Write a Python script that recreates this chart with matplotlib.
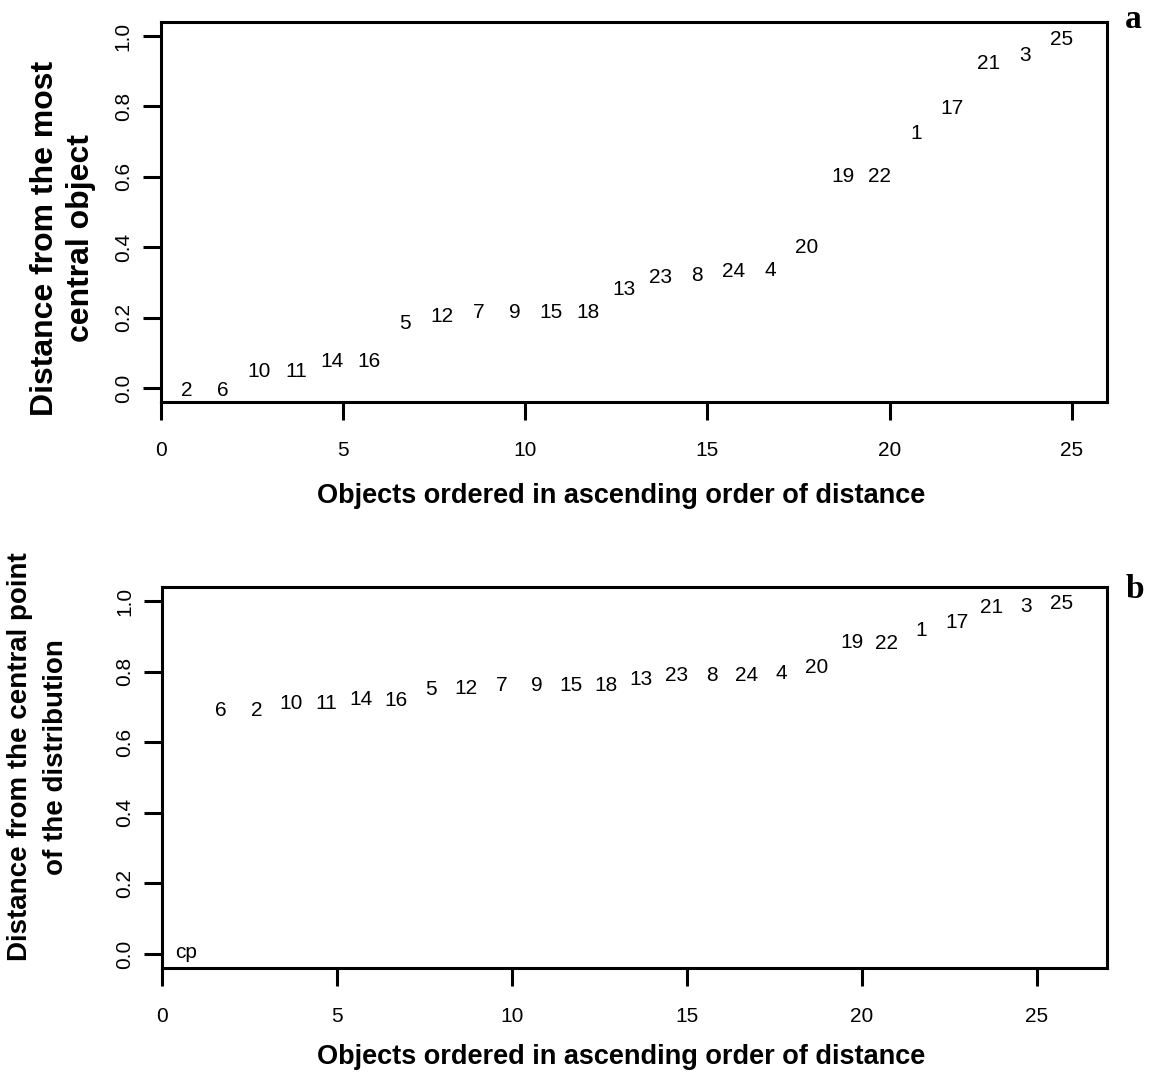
import matplotlib
matplotlib.use('Agg')
import matplotlib.pyplot as plt
import numpy as np

plt.rcParams['font.family'] = ['Liberation Sans', 'DejaVu Sans']

### Panel a: distance from the most central object
objects_a = ['2', '6', '10', '11', '14', '16', '5', '12', '7', '9', '15', '18', '13',
             '23', '8', '24', '4', '20', '19', '22', '1', '17', '21', '3', '25']
dist_a = [0.0, 0.0, 0.053, 0.053, 0.081, 0.081, 0.19, 0.21, 0.22, 0.22, 0.22, 0.22, 0.285,
          0.32, 0.325, 0.337, 0.34, 0.405, 0.606, 0.606, 0.728, 0.80, 0.927, 0.952, 0.995]

### Panel b: distance from the central point (cp) of the distribution
objects_b = ['cp', '6', '2', '10', '11', '14', '16', '5', '12', '7', '9', '15', '18', '13',
             '23', '8', '24', '4', '20', '19', '22', '1', '17', '21', '3', '25']
dist_b = [0.01, 0.697, 0.695, 0.715, 0.715, 0.726, 0.723, 0.754, 0.757, 0.768, 0.768, 0.768,
          0.766, 0.785, 0.794, 0.794, 0.794, 0.80, 0.817, 0.888, 0.885, 0.922, 0.945,
          0.988, 0.99, 1.0]

x_ticks = [0, 5, 10, 15, 20, 25]
y_ticks = [0.0, 0.2, 0.4, 0.6, 0.8, 1.0]
x_title = 'Objects ordered in ascending order of distance'
y_title_a = 'Distance from the most\ncentral object'
y_title_b = 'Distance from the central point\nof the distribution'

W, H = 1153, 1073

def box(left, top, right, bottom):
    ### pixel box -> figure fraction
    return [left / W, 1 - bottom / H, (right - left) / W, (bottom - top) / H]

def draw_panel(ax, labels, values):
    n = len(labels)
    x = np.arange(1, n + 1)
    for xi, yi, lab in zip(x, values, labels):
        ax.annotate(lab, (xi, yi), xytext=(-7.5, -1.5), textcoords='offset points',
                    ha='center', va='center', fontsize=15)
    pad = 0.04 * (n - 1)
    ax.set_xlim(0, n + pad)
    ax.set_ylim(-0.04, 1.04)
    ax.set_xticks(x_ticks)
    ax.set_yticks(y_ticks)
    ax.set_yticklabels(['%.1f' % v for v in y_ticks])
    ax.tick_params(direction='out', length=13, width=2.2, labelsize=15)
    ax.tick_params(axis='x', pad=15)
    ax.tick_params(axis='y', pad=7)
    for lab in ax.get_yticklabels():
        lab.set_rotation(90)
        lab.set_va('center')
    for sp in ax.spines.values():
        sp.set_linewidth(2.2)

fig = plt.figure(figsize=(11.53, 10.73), dpi=100)

ax_a = fig.add_axes(box(160.5, 22, 1107, 402))
draw_panel(ax_a, objects_a, dist_a)

ax_b = fig.add_axes(box(161.7, 587, 1107, 968))
draw_panel(ax_b, objects_b, dist_b)

### Axis titles
fig.text(621 / W, 1 - 496 / H, x_title, ha='center', va='center', fontsize=19.5, fontweight='bold')
fig.text(621 / W, 1 - 1057 / H, x_title, ha='center', va='center', fontsize=19.5, fontweight='bold')
fig.text(63 / W, 1 - 238 / H, y_title_a, ha='center', va='center', rotation=90,
         fontsize=23, fontweight='bold', linespacing=1.25)
fig.text(38 / W, 1 - 757 / H, y_title_b, ha='center', va='center', rotation=90,
         fontsize=20, fontweight='bold', linespacing=1.5)

### Panel letters
fig.text(1133 / W, 1 - 19 / H, 'a', ha='center', va='center', fontsize=24,
         fontweight='bold', family='Liberation Serif')
fig.text(1135 / W, 1 - 589 / H, 'b', ha='center', va='center', fontsize=24,
         fontweight='bold', family='Liberation Serif')

fig.savefig('out.png', dpi=100)
